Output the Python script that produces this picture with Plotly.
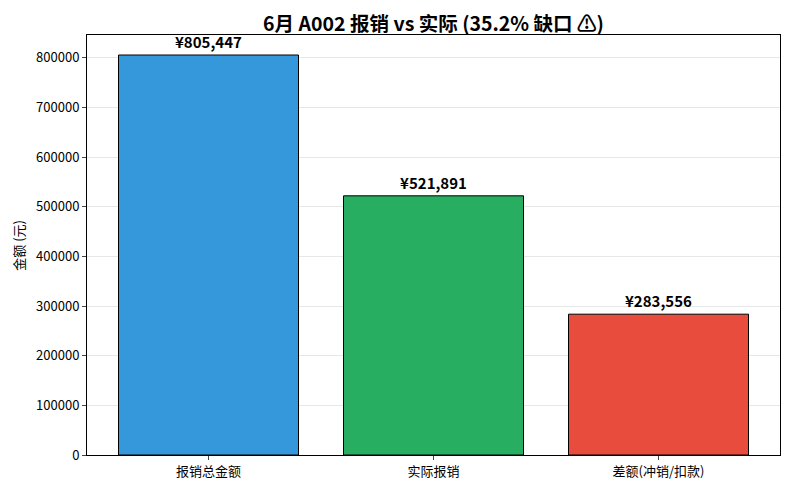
import plotly.graph_objects as go

categories = ["报销总金额", "实际报销", "差额(冲销/扣款)"]
amounts = [805447, 521891, 283556]
bar_colors = ["#3498db", "#27ae60", "#e74c3c"]
labels = ["¥{:,}".format(v) for v in amounts]

font = "Noto Sans CJK SC"

fig = go.Figure()
fig.add_trace(go.Bar(
    x=list(range(len(categories))),
    y=amounts,
    width=0.8,
    marker=dict(color=bar_colors, line=dict(color="black", width=1)),
    text=labels,
    textposition="outside",
    cliponaxis=False,
    textfont=dict(family=font, size=15, color="black", weight="bold"),
))

# page body has an 8px margin, so margins are trimmed to keep the plot where the reference has it
fig.update_layout(
    width=790, height=490,
    margin=dict(l=79, r=18, t=27, b=43),
    plot_bgcolor="white", paper_bgcolor="white",
    font=dict(family=font, size=13, color="black"),
    showlegend=False,
    title=dict(text="<b>6月 A002 报销 vs 实际 (35.2% 缺口 \u26a0\ufe0e)</b>", x=0.5, xref="paper",
               xanchor="center", y=0.967, yanchor="middle", font=dict(size=19.5, family=font)),
)
fig.add_annotation(
    text="金额 (元)", xref="paper", yref="paper", x=-0.1, y=0.5,
    xanchor="center", yanchor="middle", textangle=-90, showarrow=False,
    font=dict(size=13, family=font),
)
fig.update_xaxes(
    range=[-0.54, 2.54], tickvals=list(range(len(categories))), ticktext=categories,
    showline=True, mirror=True, linecolor="black", linewidth=1,
    ticks="outside", ticklen=4, showgrid=False, zeroline=False, automargin=False,
)
fig.update_yaxes(
    range=[0, max(amounts) * 1.05], dtick=100000, tickformat="d",
    showline=True, mirror=True, linecolor="black", linewidth=1,
    ticks="outside", ticklen=4, automargin=False,
    showgrid=True, gridcolor="rgba(176,176,176,0.3)", zeroline=False,
)

fig.write_html("out.html")
